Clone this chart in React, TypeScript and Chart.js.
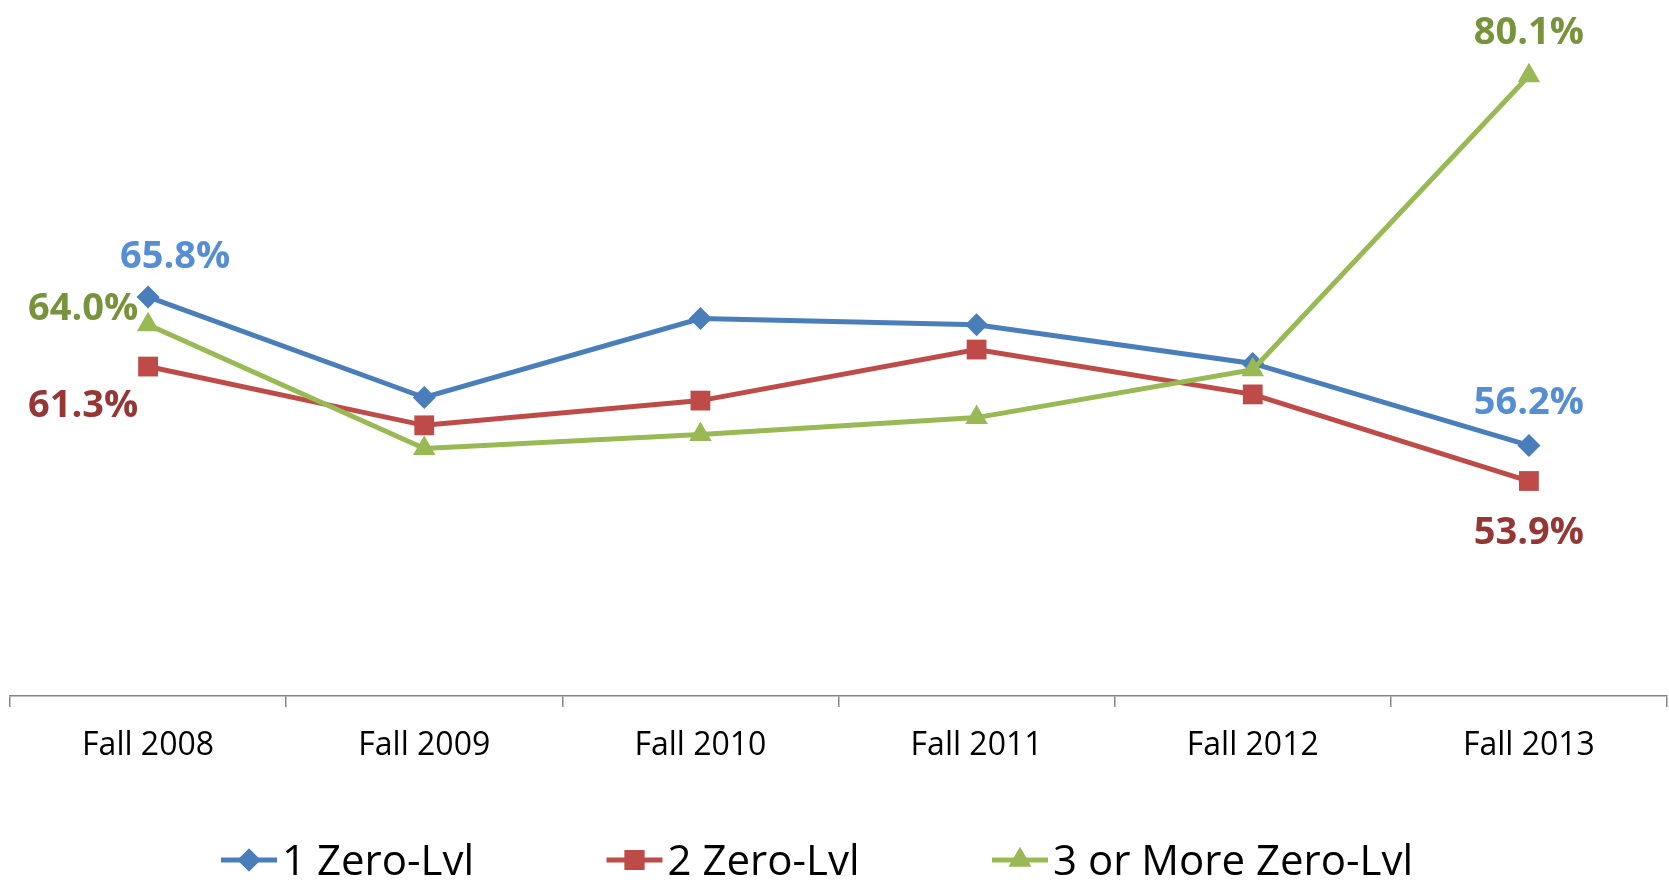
import React, { useEffect, useRef } from 'react';
import { Chart, registerables } from 'chart.js';
import { drawPoint } from 'chart.js/helpers';

Chart.register(...registerables);

// ---- Data ----
const categories = ['Fall 2008', 'Fall 2009', 'Fall 2010', 'Fall 2011', 'Fall 2012', 'Fall 2013'];
const seriesNames = ['1 Zero-Lvl', '2 Zero-Lvl', '3 or More Zero-Lvl'];
const oneZeroLvl = [65.8, 59.3, 64.4, 64.0, 61.5, 56.2];
const twoZeroLvl = [61.3, 57.5, 59.1, 62.4, 59.5, 53.9];
const threePlusZeroLvl = [64.0, 56.0, 56.9, 58.0, 61.1, 80.1];
const yMin = 40;
const yMax = 85;

// ---- Styles ----
const FONT = "'Open Sans', sans-serif";
const lineColors = ['#4A7EBB', '#BE4B48', '#98B954'];
const labelColors = ['#558ED5', '#953735', '#77933C'];
const pointStyles = ['rectRot', 'rect', 'triangle'];
const pointRadii = [11.5, 14, 13];

// which points carry a value label, with offsets from the point (px)
const labelSpecs = [
  { ds: 0, idx: 0, dx: 27, dy: -43 },
  { ds: 2, idx: 0, dx: -65, dy: -18 },
  { ds: 1, idx: 0, dx: -65, dy: 37 },
  { ds: 2, idx: 5, dx: 0, dy: -45 },
  { ds: 0, idx: 5, dx: 0, dy: -45 },
  { ds: 1, idx: 5, dx: 0, dy: 49 },
];

const labelPlugin = {
  id: 'valueLabels',
  afterDatasetsDraw(chart: any) {
    const ctx = chart.ctx;
    const size = 38;
    ctx.save();
    ctx.font = `bold ${size}px ${FONT}`;
    ctx.textAlign = 'center';
    ctx.textBaseline = 'alphabetic';
    for (const s of labelSpecs) {
      const meta = chart.getDatasetMeta(s.ds);
      const pt = meta.data[s.idx];
      const v = chart.data.datasets[s.ds].data[s.idx] as number;
      ctx.fillStyle = labelColors[s.ds];
      ctx.fillText(v.toFixed(1) + '%', pt.x + s.dx, pt.y + s.dy + size * 0.714 / 2);
    }
    ctx.restore();
  },
};

const legendPlugin = {
  id: 'customLegend',
  afterDraw(chart: any) {
    const ctx = chart.ctx;
    const size = 42;
    const cy = 860;
    const startX = 221;
    const step = 385.5;
    const lineLen = 56;
    ctx.save();
    for (let i = 0; i < seriesNames.length; i++) {
      const x0 = startX + i * step;
      ctx.strokeStyle = lineColors[i];
      ctx.lineWidth = 5;
      ctx.beginPath();
      ctx.moveTo(x0, cy);
      ctx.lineTo(x0 + lineLen, cy);
      ctx.stroke();
      ctx.fillStyle = lineColors[i];
      drawPoint(ctx, { pointStyle: pointStyles[i], radius: pointRadii[i], rotation: 0, borderWidth: 0 } as any, x0 + lineLen / 2, cy);
      ctx.fill();
      ctx.fillStyle = '#000';
      ctx.font = `${size}px ${FONT}`;
      ctx.textAlign = 'left';
      ctx.textBaseline = 'alphabetic';
      ctx.fillText(seriesNames[i], x0 + lineLen + 5, cy + size * 0.714 / 2);
    }
    ctx.restore();
  },
};

export default function App() {
  const ref = useRef<HTMLCanvasElement | null>(null);
  useEffect(() => {
    if (!ref.current) return;
    const seriesData = [oneZeroLvl, twoZeroLvl, threePlusZeroLvl];
    const chart = new Chart(ref.current, {
      type: 'line',
      data: {
        labels: categories,
        datasets: seriesData.map((d, i) => ({
          label: seriesNames[i],
          data: d,
          borderColor: lineColors[i],
          backgroundColor: lineColors[i],
          borderWidth: 5,
          pointStyle: pointStyles[i] as any,
          pointRadius: pointRadii[i],
          pointBorderWidth: 0,
          pointBackgroundColor: lineColors[i],
          tension: 0,
          fill: false,
          clip: false as any,
          order: 2 - i,
        })),
      },
      options: {
        responsive: false,
        animation: false,
        layout: { autoPadding: false, padding: { left: 10, right: 2, top: 0, bottom: 0 } },
        plugins: {
          legend: { display: false },
          tooltip: { enabled: false },
          title: { display: false },
        },
        scales: {
          x: {
            type: 'category',
            offset: true,
            grid: {
              display: true,
              drawOnChartArea: false,
              drawTicks: true,
              tickLength: 11,
              color: '#868686',
              lineWidth: 1.5,
              offset: true,
            },
            border: { display: true, color: '#868686', width: 1.5 },
            ticks: {
              color: '#000',
              font: { family: FONT, size: 32 },
              padding: 20,
              maxRotation: 0,
              autoSkip: false,
            },
            afterFit: (s: any) => {
              s.height = 184;
            },
          },
          y: { display: false, min: yMin, max: yMax },
        },
      },
      plugins: [labelPlugin, legendPlugin],
    });
    return () => chart.destroy();
  }, []);

  return (
    <div style={{ position: 'absolute', left: 0, top: 0, width: 1669, height: 880, background: '#fff' }}>
      <canvas ref={ref} width={1669} height={880} style={{ display: 'block' }} />
    </div>
  );
}
